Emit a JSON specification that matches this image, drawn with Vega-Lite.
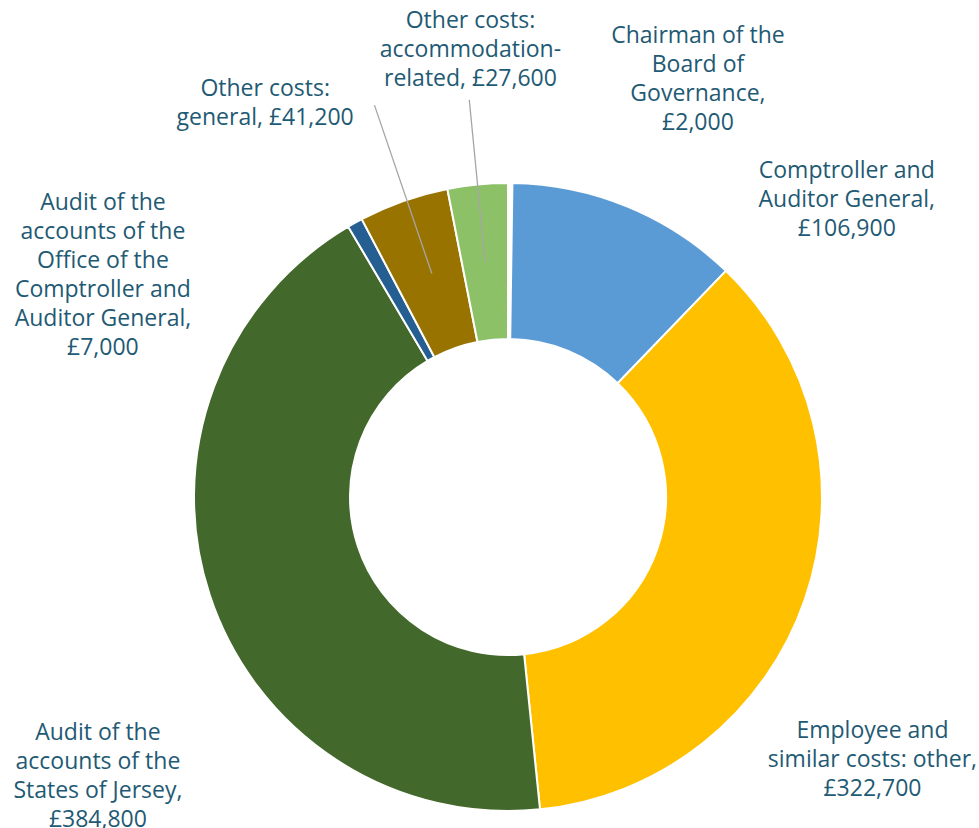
{
  "$schema": "https://vega.github.io/schema/vega-lite/v6.json",
  "autosize": "none",
  "width": 942,
  "height": 662,
  "padding": {"left": 37, "top": 166, "right": 0, "bottom": 0},
  "background": "#ffffff",
  "config": {"view": {"stroke": null}, "text": {"font": "Open Sans", "fontSize": 23, "lineHeight": 29, "color": "#1F5A74", "align": "center", "baseline": "middle", "lineBreak": "\n"}},
  "data": {
    "values": [
      {"cat": "Chairman of the Board of Governance", "value": 2000, "label": "Chairman of the\nBoard of\nGovernance,\n£2,000"},
      {"cat": "Comptroller and Auditor General", "value": 106900, "label": "Comptroller and\nAuditor General,\n£106,900"},
      {"cat": "Employee and similar costs: other", "value": 322700, "label": "Employee and\nsimilar costs: other,\n£322,700"},
      {"cat": "Audit of the accounts of the States of Jersey", "value": 384800, "label": "Audit of the\naccounts of the\nStates of Jersey,\n£384,800"},
      {"cat": "Audit of the accounts of the Office of the Comptroller and Auditor General", "value": 7000, "label": "Audit of the\naccounts of the\nOffice of the\nComptroller and\nAuditor General,\n£7,000"},
      {"cat": "Other costs: general", "value": 41200, "label": "Other costs:\ngeneral, £41,200"},
      {"cat": "Other costs: accommodation-related", "value": 27600, "label": "Other costs:\naccommodation-\nrelated, £27,600"}
    ]
  },
  "transform": [{"window": [{"op": "row_number", "as": "rank"}]}],
  "encoding": {
    "theta": {"field": "value", "type": "quantitative", "stack": true},
    "order": {"field": "rank", "type": "quantitative"},
    "detail": {"field": "cat", "type": "nominal"}
  },
  "layer": [
    {
      "mark": {"type": "arc", "radius": 314, "radius2": 158, "stroke": "#ffffff", "strokeWidth": 2},
      "encoding": {
        "color": {
          "field": "cat", "type": "nominal", "legend": null,
          "scale": {
            "domain": ["Chairman of the Board of Governance", "Comptroller and Auditor General", "Employee and similar costs: other", "Audit of the accounts of the States of Jersey", "Audit of the accounts of the Office of the Comptroller and Auditor General", "Other costs: general", "Other costs: accommodation-related"],
            "range": ["#FFFFFF", "#5B9BD5", "#FFC000", "#43682B", "#255E91", "#997300", "#8CC168"]
          }
        }
      }
    },
    {
      "mark": {"type": "arc", "radius": 399, "radius2": 236, "padAngle": 3.14159, "fillOpacity": 0, "stroke": "#A6A6A6", "strokeWidth": 1.3},
      "encoding": {"strokeOpacity": {"condition": {"test": "datum.rank === 7", "value": 1}, "value": 0}}
    },
    {
      "mark": {"type": "arc", "radius": 414, "radius2": 236, "thetaOffset": 0.011, "padAngle": 3.14159, "fillOpacity": 0, "stroke": "#A6A6A6", "strokeWidth": 1.3},
      "encoding": {"strokeOpacity": {"condition": {"test": "datum.rank === 6", "value": 1}, "value": 0}}
    },
    {
      "mark": {"type": "text", "radius": 420, "dx": 187, "dy": -41.5},
      "encoding": {"text": {"condition": {"test": "datum.rank === 1", "field": "label", "type": "nominal"}, "value": ""}}
    },
    {
      "mark": {"type": "text", "radius": 404, "dx": 185, "dy": 48},
      "encoding": {"text": {"condition": {"test": "datum.rank === 2", "field": "label", "type": "nominal"}, "value": ""}}
    },
    {
      "mark": {"type": "text", "radius": 430, "dx": -42, "dy": 94},
      "encoding": {"text": {"condition": {"test": "datum.rank === 3", "field": "label", "type": "nominal"}, "value": ""}}
    },
    {
      "mark": {"type": "text", "radius": 477, "dx": 43, "dy": 86.5},
      "encoding": {"text": {"condition": {"test": "datum.rank === 4", "field": "label", "type": "nominal"}, "value": ""}}
    },
    {
      "mark": {"type": "text", "radius": 392, "dx": -214, "dy": 48.5},
      "encoding": {"text": {"condition": {"test": "datum.rank === 5", "field": "label", "type": "nominal"}, "value": ""}}
    },
    {
      "mark": {"type": "text", "radius": 453, "dx": -92, "dy": 19.5},
      "encoding": {"text": {"condition": {"test": "datum.rank === 6", "field": "label", "type": "nominal"}, "value": ""}}
    },
    {
      "mark": {"type": "text", "radius": 449, "dx": 6, "dy": -29},
      "encoding": {"text": {"condition": {"test": "datum.rank === 7", "field": "label", "type": "nominal"}, "value": ""}}
    }
  ]
}
